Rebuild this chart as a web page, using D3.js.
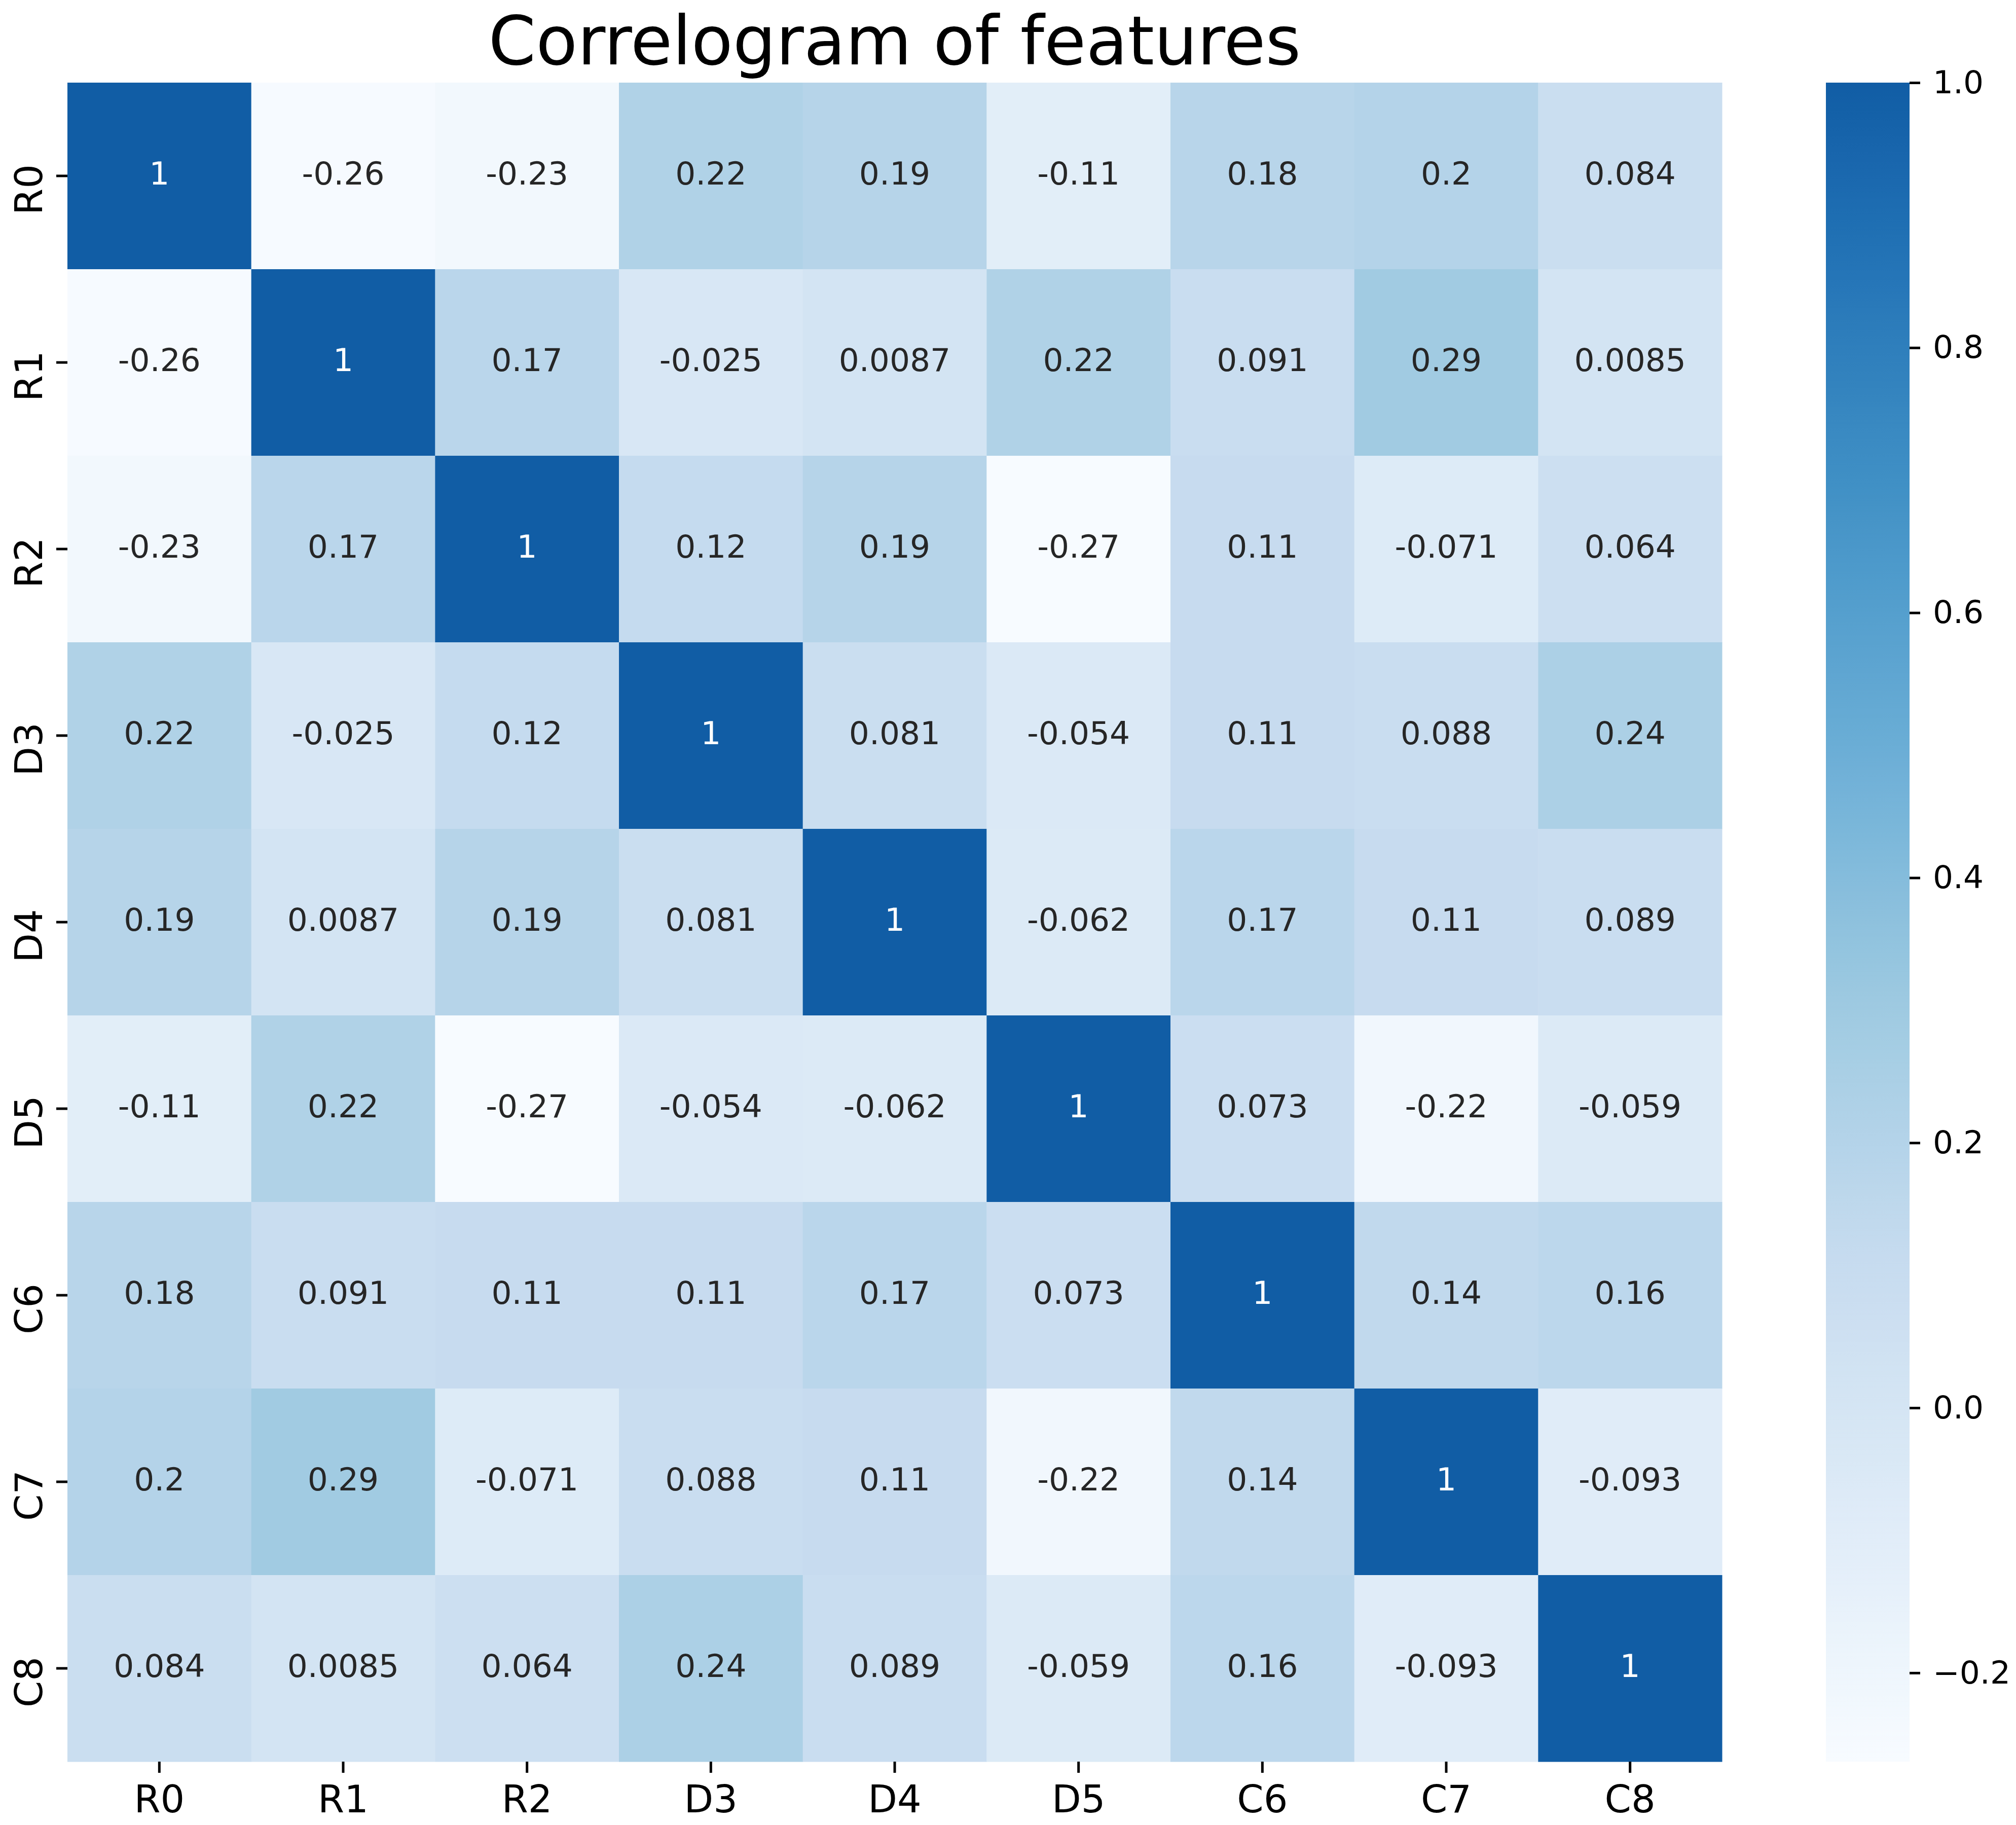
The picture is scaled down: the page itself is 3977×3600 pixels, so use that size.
<!DOCTYPE html>
<html>
  <head>
    <meta charset="utf-8">
    <script src="https://d3js.org/d3.v7.min.js"></script>
    <title>Correlogram of features</title>
    <style>
      html, body {
        margin: 0;
        padding: 0;
        background: #fff;
        overflow: hidden;
      }
      svg {
        display: block;
      }
      text {
        font-family: "DejaVu Sans", sans-serif;
      }
      .tick line {
        stroke: #000;
        stroke-width: 5;
      }
      .tick text {
        fill: #000;
      }
    </style>
  </head>
  <body>
    <svg width="3977" height="3600"></svg>
    <script>
      // feature names (rows and columns are the same)
      const features = ['R0', 'R1', 'R2', 'D3', 'D4', 'D5', 'C6', 'C7', 'C8'];

      // correlation matrix, one array per row
      const rowR0 = [1, -0.26, -0.23, 0.22, 0.19, -0.11, 0.18, 0.2, 0.084];
      const rowR1 = [-0.26, 1, 0.17, -0.025, 0.0087, 0.22, 0.091, 0.29, 0.0085];
      const rowR2 = [-0.23, 0.17, 1, 0.12, 0.19, -0.267, 0.11, -0.071, 0.064];
      const rowD3 = [0.22, -0.025, 0.12, 1, 0.081, -0.054, 0.11, 0.088, 0.24];
      const rowD4 = [0.19, 0.0087, 0.19, 0.081, 1, -0.062, 0.17, 0.11, 0.089];
      const rowD5 = [-0.11, 0.22, -0.267, -0.054, -0.062, 1, 0.073, -0.22, -0.059];
      const rowC6 = [0.18, 0.091, 0.11, 0.11, 0.17, 0.073, 1, 0.14, 0.16];
      const rowC7 = [0.2, 0.29, -0.071, 0.088, 0.11, -0.22, 0.14, 1, -0.093];
      const rowC8 = [0.084, 0.0085, 0.064, 0.24, 0.089, -0.059, 0.16, -0.093, 1];
      const matrix = [rowR0, rowR1, rowR2, rowD3, rowD4, rowD5, rowC6, rowC7, rowC8];

      const colorbarTicks = [-0.2, 0.0, 0.2, 0.4, 0.6, 0.8, 1.0];
      const title = 'Correlogram of features';

      const svg = d3.select('svg');
      const margin = {left: 133, top: 163};
      const innerWidth = 3397 - margin.left;
      const innerHeight = 3475 - margin.top;

      const g = svg.append('g')
        .attr('transform', `translate(${margin.left}, ${margin.top})`);

      const cells = [];
      matrix.forEach((row, i) => row.forEach((v, j) => {
        cells.push({row: features[i], col: features[j], value: v});
      }));

      const vmin = d3.min(cells, d => d.value);
      const vmax = d3.max(cells, d => d.value);

      // matplotlib "Blues" (linear through the 9 brewer colours), upper end cut off
      const blues = ['#f7fbff', '#deebf7', '#c6dbef', '#9ecae1', '#6baed6',
                     '#4292c6', '#2171b5', '#08519c', '#08306b'];
      const bluesScale = d3.scaleLinear()
        .domain(d3.range(9).map(i => i / 8))
        .range(blues)
        .interpolate(d3.interpolateRgb);
      const norm = d3.scaleLinear().domain([vmin, vmax]).range([0, 0.83]);
      const color = v => bluesScale(norm(v));

      const xScale = d3.scaleBand().domain(features).range([0, innerWidth]);
      const yScale = d3.scaleBand().domain(features).range([0, innerHeight]);

      g.selectAll('rect.cell').data(cells)
        .enter().append('rect')
          .attr('class', 'cell')
          .attr('x', d => xScale(d.col))
          .attr('y', d => yScale(d.row))
          .attr('width', xScale.bandwidth() + 0.5)
          .attr('height', yScale.bandwidth() + 0.5)
          .attr('fill', d => color(d.value));

      // seaborn picks the annotation colour from the cell luminance
      const luminance = c => {
        const rgb = d3.rgb(c);
        const lin = x => {
          x = x / 255;
          return x <= 0.03928 ? x / 12.92 : Math.pow((x + 0.055) / 1.055, 2.4);
        };
        return 0.2126 * lin(rgb.r) + 0.7152 * lin(rgb.g) + 0.0722 * lin(rgb.b);
      };
      const annotFormat = d3.format('.2~g');

      g.selectAll('text.annot').data(cells)
        .enter().append('text')
          .attr('class', 'annot')
          .attr('x', d => xScale(d.col) + xScale.bandwidth() / 2)
          .attr('y', d => yScale(d.row) + yScale.bandwidth() / 2 + 17)
          .attr('text-anchor', 'middle')
          .attr('font-size', 63)
          .attr('fill', d => luminance(color(d.value)) > 0.408 ? '#262626' : '#ffffff')
          .text(d => annotFormat(d.value).replace('\u2212', '-'));

      // axes
      const xAxisG = g.append('g')
        .attr('transform', `translate(0, ${innerHeight})`)
        .call(d3.axisBottom(xScale).tickSize(22).tickSizeOuter(0));
      xAxisG.select('.domain').remove();
      xAxisG.selectAll('.tick text')
        .attr('y', 100)
        .attr('dy', null)
        .attr('font-size', 75);

      const yAxisG = g.append('g')
        .call(d3.axisLeft(yScale).tickSize(22).tickSizeOuter(0));
      yAxisG.select('.domain').remove();
      yAxisG.selectAll('.tick text')
        .attr('x', null)
        .attr('dy', null)
        .attr('text-anchor', 'middle')
        .attr('font-size', 75)
        .attr('transform', 'translate(-50, 27) rotate(-90)');

      // title
      svg.append('text')
        .attr('x', margin.left + innerWidth / 2)
        .attr('y', 127)
        .attr('text-anchor', 'middle')
        .attr('font-size', 134)
        .attr('fill', '#000')
        .text(title);

      // colorbar
      const cbX = 3602;
      const cbWidth = 165;
      const cbScale = d3.scaleLinear()
        .domain([vmin, vmax])
        .range([innerHeight, 0]);

      const grad = svg.append('defs').append('linearGradient')
        .attr('id', 'cbGrad')
        .attr('x1', 0).attr('y1', 1)
        .attr('x2', 0).attr('y2', 0);
      grad.selectAll('stop')
        .data(d3.range(0, 1.0001, 0.02))
        .enter().append('stop')
          .attr('offset', t => t)
          .attr('stop-color', t => color(vmin + t * (vmax - vmin)));

      const cbG = svg.append('g')
        .attr('transform', `translate(${cbX}, ${margin.top})`);
      cbG.append('rect')
        .attr('width', cbWidth)
        .attr('height', innerHeight)
        .attr('fill', 'url(#cbGrad)');

      const cbAxisG = cbG.append('g')
        .attr('transform', `translate(${cbWidth}, 0)`)
        .call(d3.axisRight(cbScale)
          .tickValues(colorbarTicks)
          .tickFormat(d3.format('.1f'))
          .tickSize(21)
          .tickPadding(25)
          .tickSizeOuter(0));
      cbAxisG.select('.domain').remove();
      cbAxisG.selectAll('.tick text')
        .attr('font-size', 63);
    </script>
  </body>
</html>
